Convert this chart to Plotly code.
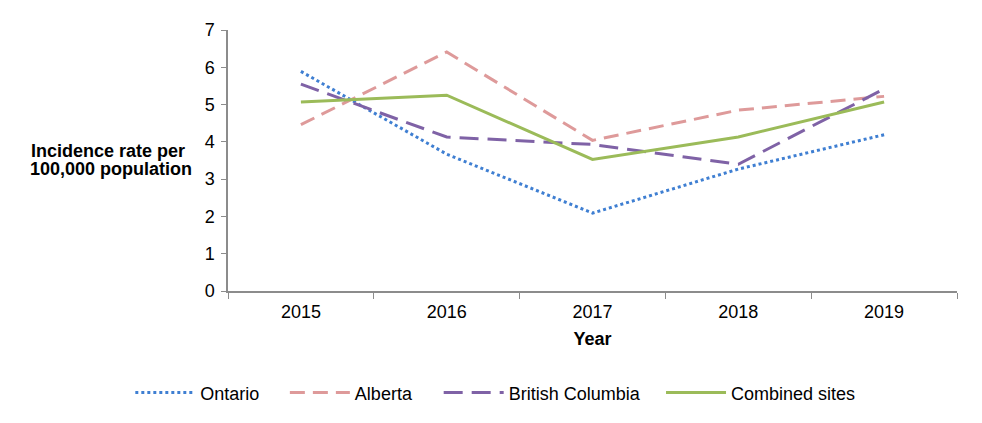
import plotly.graph_objects as go

years = ["2015", "2016", "2017", "2018", "2019"]
ontario = [5.89, 3.67, 2.09, 3.27, 4.19]
alberta = [4.46, 6.41, 4.04, 4.85, 5.22]
british_columbia = [5.55, 4.13, 3.93, 3.40, 5.42]
combined = [5.07, 5.25, 3.53, 4.13, 5.07]

series = [
    ("Ontario", ontario, "#3F7FD2", "dot", "legend"),
    ("Alberta", alberta, "#DE9A9A", "15px,8px", "legend2"),
    ("British Columbia", british_columbia, "#7F62A6", "19px,9px", "legend3"),
    ("Combined sites", combined, "#9BBB59", "solid", "legend4"),
]

fig = go.Figure()
for name, vals, color, dash, leg in series:
    fig.add_trace(go.Scatter(
        x=years, y=vals, name=name, mode="lines",
        line=dict(color=color, width=3, dash=dash), legend=leg,
    ))

def legend_at(xp):
    return dict(orientation="h", x=xp, xanchor="left", y=-0.39, yanchor="middle",
                font=dict(size=18), itemwidth=60, bgcolor="rgba(0,0,0,0)")

axis_col = "#8C8C8C"
fig.update_layout(
    width=982, height=423,
    margin=dict(l=220, r=33, t=17, b=140),
    paper_bgcolor="white", plot_bgcolor="white",
    font=dict(family="Liberation Sans, Arial, sans-serif", size=18, color="#000000"),
    showlegend=True,
    legend=legend_at(-0.134),
    legend2=legend_at(0.078),
    legend3=legend_at(0.289),
    legend4=legend_at(0.594),
    xaxis=dict(
        type="category", range=[-0.5, 4.5], showgrid=False, zeroline=False,
        showline=True, linecolor=axis_col, linewidth=1.5,
        ticks="outside", tickson="boundaries", ticklen=6, tickcolor=axis_col,
        ticklabelstandoff=4,
        title=dict(text="<b>Year</b>", font=dict(size=18), standoff=11),
    ),
    yaxis=dict(
        range=[0, 7], dtick=1, showgrid=False, zeroline=False,
        showline=True, linecolor=axis_col, linewidth=1.5,
        ticks="outside", ticklen=5, tickcolor=axis_col,
        ticklabelstandoff=3,
    ),
    annotations=[
        dict(text="<b>Incidence rate per</b>", xref="paper", yref="paper",
             x=-0.164, y=0.5376, xanchor="center", yanchor="middle",
             showarrow=False, font=dict(size=18)),
        dict(text="<b>100,000 population</b>", xref="paper", yref="paper",
             x=-0.161, y=0.466, xanchor="center", yanchor="middle",
             showarrow=False, font=dict(size=18)),
    ],
)

fig.write_html("out.html")
